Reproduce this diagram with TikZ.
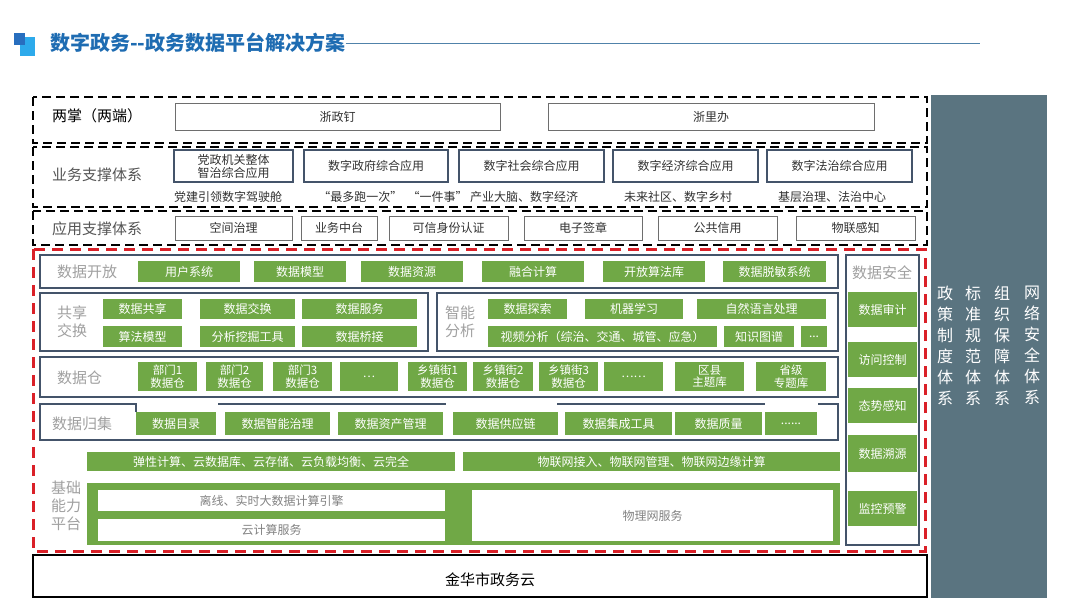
\documentclass[tikz,border=0pt]{standalone}
\usepackage{fontspec}
\setmainfont{Noto Sans CJK SC}
\usepackage{xcolor}
\usepackage{tikz}
\usetikzlibrary{positioning}
\definecolor{titleblue}{RGB}{30,108,178}
\definecolor{icondark}{RGB}{40,110,190}
\definecolor{iconlight}{RGB}{45,170,235}
\definecolor{titleline}{RGB}{80,130,170}
\definecolor{reddashcol}{RGB}{218,32,40}
\definecolor{framecol}{RGB}{68,84,106}
\definecolor{plainborder}{RGB}{110,110,110}
\definecolor{greencol}{RGB}{112,168,70}
\definecolor{sidepanel}{RGB}{90,116,128}
\definecolor{textcol}{RGB}{50,50,50}
\definecolor{darklabel}{RGB}{85,85,85}
\definecolor{lightlabel}{RGB}{160,160,160}
\definecolor{graytext}{RGB}{130,130,130}

\begin{document}
\begin{tikzpicture}[
    x=1pt, y=-1pt,
    font=\fontsize{12}{14}\selectfont,
    blackdash/.style={draw=black, line width=2.2pt, dash pattern=on 9pt off 5pt},
    reddash/.style={draw=reddashcol, line width=3pt, dash pattern=on 11pt off 7pt},
    groupframe/.style={draw=framecol, line width=1.6pt},
    plainbox/.style={rectangle, draw=plainborder, line width=0.9pt, fill=white, text=textcol, inner sep=0pt},
    appbox/.style={rectangle, draw=framecol, line width=1.8pt, fill=white, text=textcol, inner sep=0pt, align=center, font=\fontsize{12}{13}\selectfont},
    greenbox/.style={rectangle, fill=greencol, text=white, inner sep=0pt, align=center, font=\fontsize{12}{13}\selectfont},
    whitein/.style={rectangle, fill=white, text=graytext, inner sep=0pt},
    layerlabel/.style={anchor=west, inner sep=0pt, font=\fontsize{15}{17}\selectfont},
    grouplabel/.style={inner sep=0pt, align=center, text=lightlabel, font=\fontsize{15}{18}\selectfont},
    caption/.style={inner sep=0pt, text=textcol},
    sidetext/.style={inner sep=0pt, align=center, text=white, font=\fontsize{16}{21}\selectfont}
  ]
  \useasboundingbox[fill=white] (0,0) rectangle (1080,608);

  % title
  \fill[iconlight] (20,37) rectangle (35,56);
  \fill[icondark] (14,33) rectangle (25,45);
  \node[anchor=west, inner sep=0pt, text=titleblue, font=\fontsize{20}{24}\selectfont\bfseries] (title) at (50,43) {数字政务{-}{-}政务数据平台解决方案};
  \coordinate (titleend) at (980,43);
  \draw[titleline, line width=0.8pt] (title.east) -- (titleend);

  % side panel
  \fill[sidepanel] (931,95) rectangle (1047,598);
  \node[sidetext] (zczd) at (945,345.5) {政\\策\\制\\度\\体\\系};
  \node[sidetext] (bzgf) at (973,345.5) {标\\准\\规\\范\\体\\系};
  \node[sidetext] (zzbz) at (1002,345.5) {组\\织\\保\\障\\体\\系};
  \node[sidetext] (wlaq) at (1032,345.5) {网\\络\\安\\全\\体\\系};

  % outer layers
  \draw[blackdash] (33,97) rectangle (927,143);
  \draw[blackdash] (33,147) rectangle (927,207);
  \draw[blackdash] (33,211) rectangle (927,245);
  \draw[reddash] (33,249) rectangle (925,551);
  \draw[black, line width=1.8pt] (33,555) rectangle (927,597);
  \node[inner sep=0pt, text=black, font=\fontsize{15}{17}\selectfont] (jhyun) at (490,580) {金华市政务云};

  % two ends
  \node[layerlabel, text=black] (lz) at (52,116) {两掌（两端）};
  \node[plainbox, minimum width=325pt, minimum height=27pt] (zzd) at (337.5,116.5) {浙政钉};
  \node[plainbox, minimum width=326pt, minimum height=27pt] (zlb) at (711,116.5) {浙里办};

  % business support
  \node[layerlabel, text=darklabel] (ywzc) at (52,175) {业务支撑体系};
  \node[appbox, minimum width=119pt, minimum height=32pt] (dzjg) at (233.5,166) {党政机关整体\\智治综合应用};
  \node[appbox, minimum width=144pt, minimum height=32pt] (szzf) at (376,166) {数字政府综合应用};
  \node[appbox, minimum width=145pt, minimum height=32pt] (szsh) at (531.5,166) {数字社会综合应用};
  \node[appbox, minimum width=145pt, minimum height=32pt] (szjj) at (685.5,166) {数字经济综合应用};
  \node[appbox, minimum width=145pt, minimum height=32pt] (szfz) at (839.5,166) {数字法治综合应用};
  \node[caption] (djyl) at (228,197) {党建引领数字驾驶舱};
  \node[caption] (zdpy) at (393,197) {“最多跑一次”\ \ “一件事”};
  \node[caption] (cydn) at (524,197) {产业大脑、数字经济};
  \node[caption] (wlsq) at (678,197) {未来社区、数字乡村};
  \node[caption] (jczl) at (832,197) {基层治理、法治中心};

  % application support
  \node[layerlabel, text=darklabel] (yyzc) at (52,229) {应用支撑体系};
  \node[plainbox, minimum width=117pt, minimum height=24pt] (kjzl) at (233.5,228) {空间治理};
  \node[plainbox, minimum width=76pt, minimum height=24pt] (ywzt) at (339,228) {业务中台};
  \node[plainbox, minimum width=119pt, minimum height=24pt] (kxsf) at (448.5,228) {可信身份认证};
  \node[plainbox, minimum width=118pt, minimum height=24pt] (dzqz) at (583,228) {电子签章};
  \node[plainbox, minimum width=119pt, minimum height=24pt] (ggxy) at (717.5,228) {公共信用};
  \node[plainbox, minimum width=119pt, minimum height=24pt] (wlgz) at (855.5,228) {物联感知};

  % data open
  \draw[groupframe] (40,255) rectangle (838,288);
  \node[grouplabel, anchor=west] (sjkf) at (57,272) {数据开放};
  \node[greenbox, minimum width=102pt, minimum height=21pt] (yhxt) at (189,271.5) {用户系统};
  \node[greenbox, minimum width=92pt, minimum height=21pt] (sjmx) at (300,271.5) {数据模型};
  \node[greenbox, minimum width=102pt, minimum height=21pt] (sjzy) at (412,271.5) {数据资源};
  \node[greenbox, minimum width=102pt, minimum height=21pt] (rhjs) at (533,271.5) {融合计算};
  \node[greenbox, minimum width=102pt, minimum height=21pt] (kfsf) at (654,271.5) {开放算法库};
  \node[greenbox, minimum width=103pt, minimum height=21pt] (sjtm) at (774.5,271.5) {数据脱敏系统};

  % sharing and exchange
  \draw[groupframe] (40,293) rectangle (428,351);
  \node[grouplabel] (gxjh) at (72,322) {共享\\交换};
  \node[greenbox, minimum width=79pt, minimum height=20pt] (sjgx) at (142.5,309) {数据共享};
  \node[greenbox, minimum width=95pt, minimum height=20pt] (sjjh) at (247.5,309) {数据交换};
  \node[greenbox, minimum width=115pt, minimum height=20pt] (sjfw) at (359.5,309) {数据服务};
  \node[greenbox, minimum width=79pt, minimum height=21pt] (sfmx) at (142.5,336.5) {算法模型};
  \node[greenbox, minimum width=95pt, minimum height=21pt] (fxwj) at (247.5,336.5) {分析挖掘工具};
  \node[greenbox, minimum width=115pt, minimum height=21pt] (sjqj) at (359.5,336.5) {数据桥接};

  % intelligent analysis
  \draw[groupframe] (437,293) rectangle (838,351);
  \node[grouplabel] (znfx) at (460,322) {智能\\分析};
  \node[greenbox, minimum width=79pt, minimum height=20pt] (sjts) at (527.5,309) {数据探索};
  \node[greenbox, minimum width=98pt, minimum height=20pt] (jqxx) at (634,309) {机器学习};
  \node[greenbox, minimum width=129pt, minimum height=20pt] (zryy) at (761.5,309) {自然语言处理};
  \node[greenbox, minimum width=229pt, minimum height=21pt] (spfx) at (602.5,336.5) {视频分析（综治、交通、城管、应急）};
  \node[greenbox, minimum width=70pt, minimum height=21pt] (zstp) at (759,336.5) {知识图谱};
  \node[greenbox, minimum width=26pt, minimum height=21pt] (znmore) at (814,336.5) {...};

  % data warehouse
  \draw[groupframe] (40,357) rectangle (838,397);
  \node[grouplabel, anchor=west] (sjc) at (57,378) {数据仓};
  \tikzset{whbox/.style={greenbox, minimum height=29pt, font=\fontsize{11.5}{12.5}\selectfont}}
  \node[whbox, minimum width=59pt] (bm1) at (167.5,376.5) {部门1\\数据仓};
  \node[whbox, minimum width=57pt] (bm2) at (234.5,376.5) {部门2\\数据仓};
  \node[whbox, minimum width=59pt] (bm3) at (302.5,376.5) {部门3\\数据仓};
  \node[whbox, minimum width=58pt] (bmmore) at (369,376.5) {…};
  \node[whbox, minimum width=59pt] (xz1) at (437.5,376.5) {乡镇街1\\数据仓};
  \node[whbox, minimum width=60pt] (xz2) at (503,376.5) {乡镇街2\\数据仓};
  \node[whbox, minimum width=59pt] (xz3) at (568.5,376.5) {乡镇街3\\数据仓};
  \node[whbox, minimum width=59pt] (xzmore) at (633.5,376.5) {……};
  \node[whbox, minimum width=69pt] (qx) at (709.5,376.5) {区县\\主题库};
  \node[whbox, minimum width=70pt] (sj) at (791,376.5) {省级\\专题库};

  % data collection
  \draw[groupframe] (136,412) -- (136,404) -- (40,404) -- (40,440) -- (838,440) -- (838,404) -- (818,404);
  \draw[groupframe] (218,404) -- (446,404);
  \draw[groupframe] (557,404) -- (765,404);
  \node[grouplabel, anchor=west] (sjgj) at (52,424) {数据归集};
  \node[greenbox, minimum width=80pt, minimum height=23pt] (sjml) at (176,423.5) {数据目录};
  \node[greenbox, minimum width=105pt, minimum height=23pt] (sjzn) at (277.5,423.5) {数据智能治理};
  \node[greenbox, minimum width=105pt, minimum height=23pt] (sjzc) at (390.5,423.5) {数据资产管理};
  \node[greenbox, minimum width=105pt, minimum height=23pt] (sjgyl) at (505.5,423.5) {数据供应链};
  \node[greenbox, minimum width=107pt, minimum height=23pt] (sjjc) at (618.5,423.5) {数据集成工具};
  \node[greenbox, minimum width=87pt, minimum height=23pt] (sjzl) at (718.5,423.5) {数据质量};
  \node[greenbox, minimum width=52pt, minimum height=23pt] (gjmore) at (791,423.5) {......};

  % base capability platform
  \node[grouplabel] (jcnl) at (66,506) {基础\\能力\\平台};
  \node[greenbox, minimum width=368pt, minimum height=19pt] (yjs1) at (271,461.5) {弹性计算、云数据库、云存储、云负载均衡、云完全};
  \node[greenbox, minimum width=377pt, minimum height=19pt] (wlw1) at (651.5,461.5) {物联网接入、物联网管理、物联网边缘计算};
  \fill[greencol] (87,483) rectangle (840,545);
  \node[whitein, minimum width=347pt, minimum height=21pt] (lxss) at (271.5,500.5) {离线、实时大数据计算引擎};
  \node[whitein, minimum width=347pt, minimum height=22pt] (yjsfw) at (271.5,530) {云计算服务};
  \node[whitein, minimum width=361pt, minimum height=51pt] (wlwfw) at (652.5,515.5) {物理网服务};

  % data security
  \draw[groupframe] (846,255) rectangle (919,545);
  \node[grouplabel] (sjaq) at (882,273) {数据安全};
  \node[greenbox, minimum width=69pt, minimum height=35pt] (sjsj) at (882.5,309.5) {数据审计};
  \node[greenbox, minimum width=69pt, minimum height=35pt] (fwkz) at (882.5,359.5) {访问控制};
  \node[greenbox, minimum width=69pt, minimum height=35pt] (tsgz) at (882.5,405.5) {态势感知};
  \node[greenbox, minimum width=69pt, minimum height=37pt] (sjsy) at (882.5,453.5) {数据溯源};
  \node[greenbox, minimum width=69pt, minimum height=35pt] (jkyj) at (882.5,508.5) {监控预警};
\end{tikzpicture}
\end{document}
